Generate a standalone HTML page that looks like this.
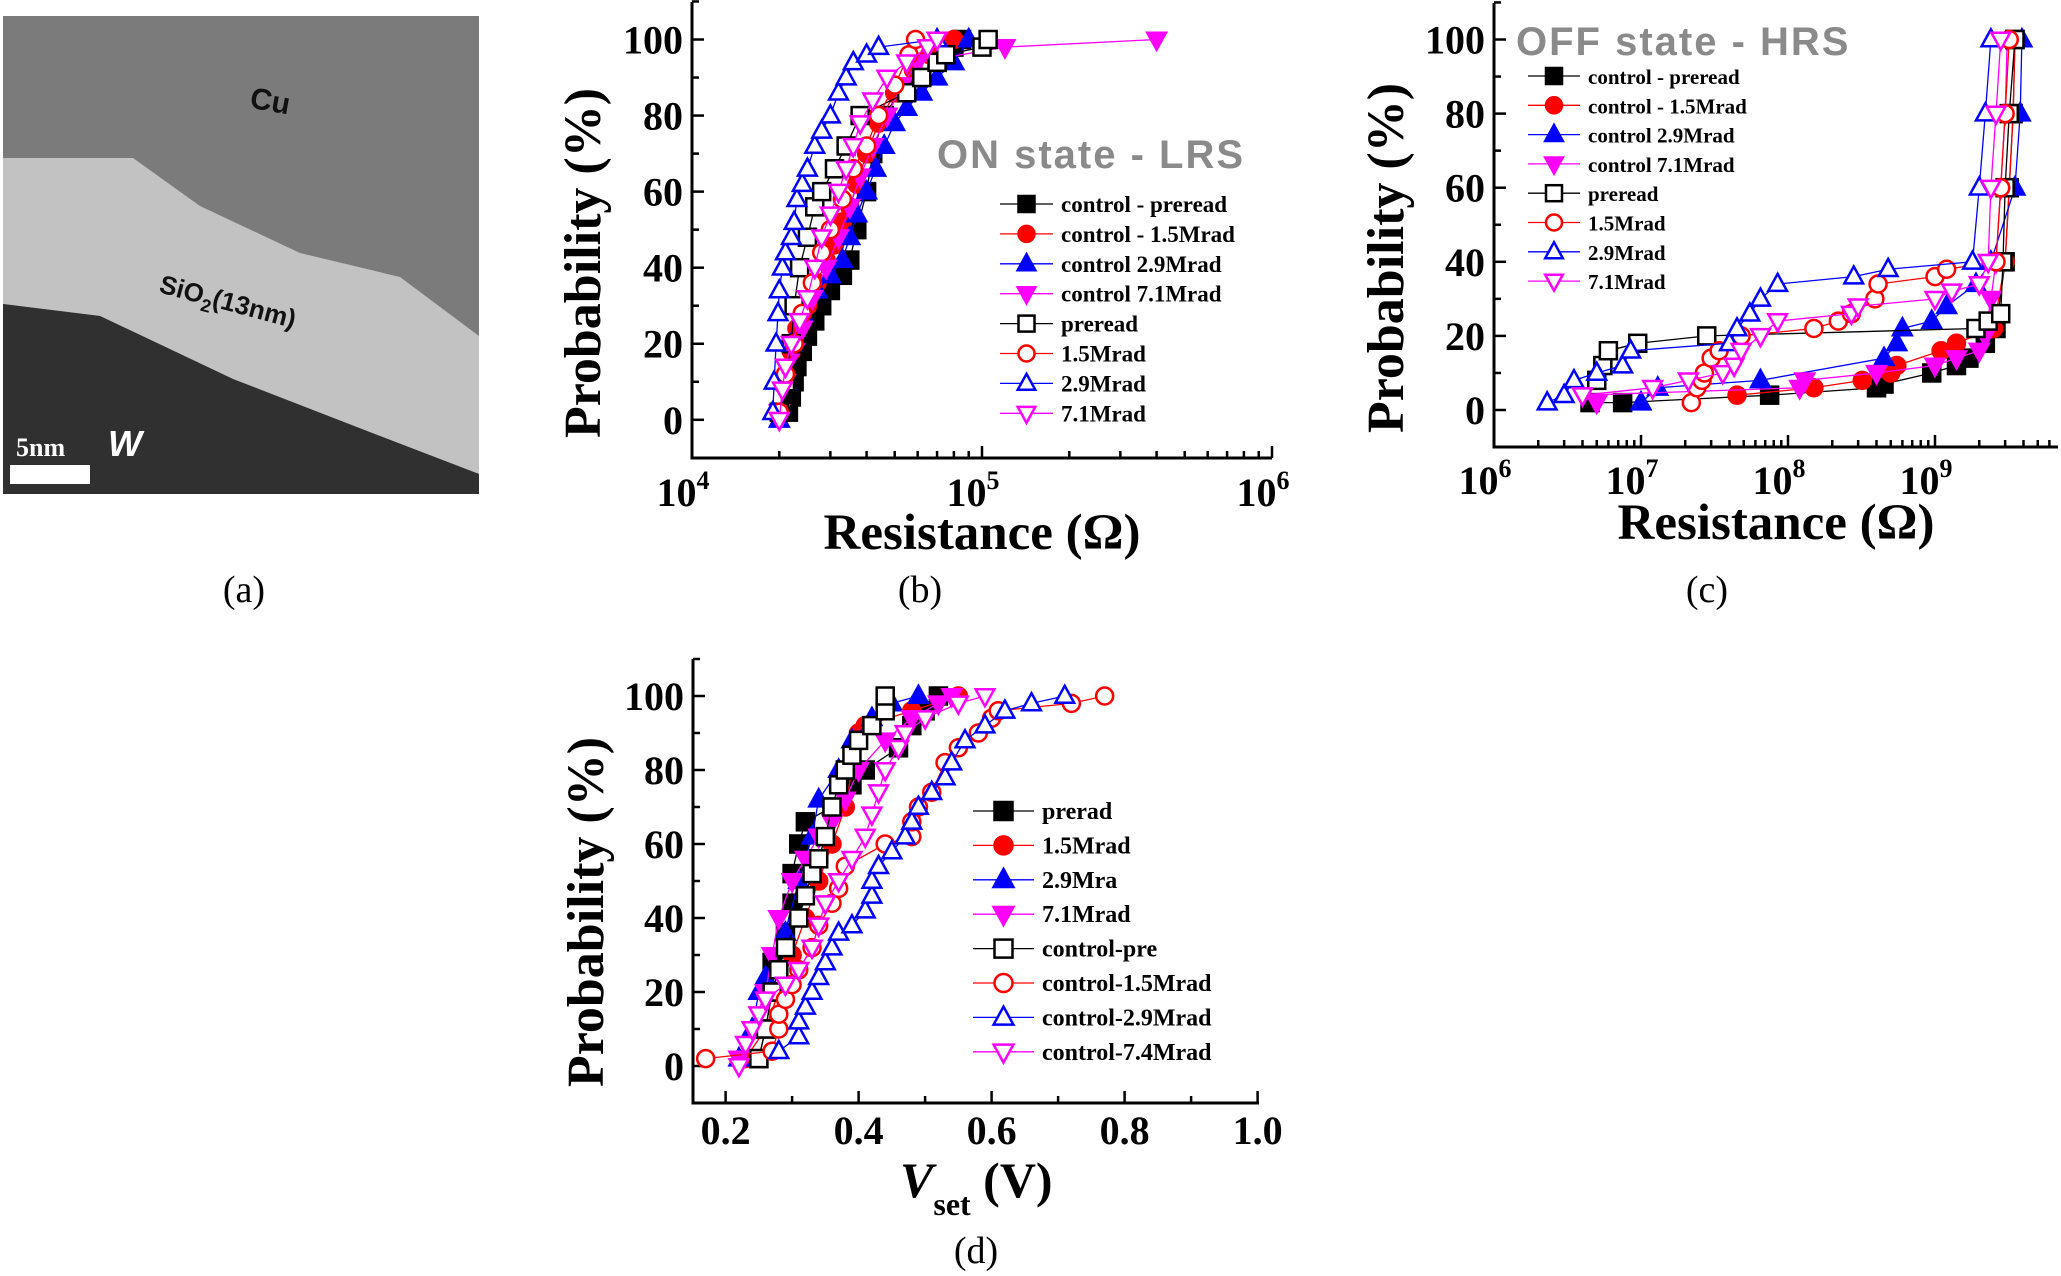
<!DOCTYPE html>
<html><head><meta charset="utf-8"><style>
html,body{margin:0;padding:0;background:#fff;}
svg{display:block;font-family:"Liberation Serif",serif;}
.sans{font-family:"Liberation Sans",sans-serif;}
</style></head><body>
<svg id="fig" width="2061" height="1276" viewBox="0 0 2061 1276" xmlns="http://www.w3.org/2000/svg">
<g>
  <rect x="3" y="16" width="476" height="478" fill="#7b7b7b"/>
  <path d="M3,158 L133,158 L200,206 L300,253 L400,277 L479,336 L479,474 L367,431 L233,379 L100,316 L3,304 Z" fill="#c2c2c2"/>
  <path d="M3,304 L100,316 L233,379 L367,431 L479,474 L479,494 L3,494 Z" fill="#303030"/>
  <text class="sans" x="250" y="112" font-weight="bold" font-size="30" fill="#111" transform="rotate(10 275 103)">Cu</text>
  <text class="sans" x="158" y="292" font-weight="bold" font-size="26" fill="#111" transform="rotate(15 158 292)">SiO<tspan dy="7" font-size="18">2</tspan><tspan dy="-7">(13nm)</tspan></text>
  <text x="16" y="456" font-weight="bold" font-size="26" fill="#fff">5nm</text>
  <rect x="10" y="465" width="80" height="19" fill="#fff"/>
  <text class="sans" x="108" y="456" font-style="italic" font-weight="bold" font-size="36" fill="#fff">W</text>
</g>
<text x="244" y="602" font-size="38" text-anchor="middle">(a)</text>
<text x="920" y="602" font-size="38" text-anchor="middle">(b)</text>
<text x="1707" y="602" font-size="38" text-anchor="middle">(c)</text>
<text x="976" y="1263" font-size="38" text-anchor="middle">(d)</text>

<text class="sans" x="937" y="168" font-weight="bold" font-size="40" fill="#8a8a8a" letter-spacing="2">ON state - LRS</text>
<text class="sans" x="1516" y="55" font-weight="bold" font-size="40" fill="#8a8a8a" letter-spacing="2">OFF state - HRS</text>

<text transform="translate(600,263) rotate(-90)" font-weight="bold" font-size="52" text-anchor="middle">Probability (%)</text>
<text x="982" y="549" font-weight="bold" font-size="51" text-anchor="middle">Resistance (Ω)</text>
<text transform="translate(1403,258) rotate(-90)" font-weight="bold" font-size="52" text-anchor="middle">Probability (%)</text>
<text x="1776" y="539" font-weight="bold" font-size="51" text-anchor="middle">Resistance (Ω)</text>
<text transform="translate(603,912) rotate(-90)" font-weight="bold" font-size="52" text-anchor="middle">Probability (%)</text>
<text x="900" y="1197" font-weight="bold" font-size="50"><tspan font-style="italic">V</tspan><tspan dy="18" font-size="32">set</tspan><tspan dy="-18"> (V)</tspan></text>
</svg>
<script>
// ---- panel (b) LRS data [resistance ohm, probability %]
const b_ctrlPreread=[[21500,2],[22000,6],[22500,10],[23000,14],[24000,18],[25000,22],[26500,26],[28000,30],[30000,34],[33000,38],[35000,42],[37000,50],[40000,60],[42000,70],[46000,80],[52000,86],[60000,90],[70000,94],[80000,98],[85000,100]];
const b_ctrl15=[[20000,2],[21000,10],[22000,18],[23000,24],[25000,30],[27000,36],[29000,42],[31000,46],[33000,52],[35000,56],[37000,62],[40000,70],[44000,78],[50000,86],[58000,92],[66000,96],[80000,100]];
const b_ctrl29=[[20000,0],[21000,10],[22000,20],[24000,28],[27000,34],[30000,38],[33000,42],[35000,48],[37000,54],[40000,60],[43000,66],[46000,72],[50000,78],[55000,82],[62000,86],[70000,90],[80000,94],[90000,100]];
const b_ctrl71=[[20000,2],[21000,10],[22500,18],[24000,24],[26000,32],[29000,40],[32000,48],[35000,56],[38000,64],[42000,72],[47000,80],[53000,88],[60000,94],[120000,98],[400000,100]];
const b_preread=[[20000,2],[21000,10],[22000,20],[22500,30],[23500,40],[25000,48],[26500,56],[28000,60],[31000,66],[34000,72],[38000,80],[55000,86],[62000,90],[70000,94],[75000,96],[100000,98],[105000,100]];
const b_15=[[20000,2],[21000,12],[22500,20],[24000,28],[26000,36],[28000,44],[30000,50],[33000,58],[36000,66],[40000,72],[44000,80],[50000,88],[56000,96],[59000,100]];
const b_29=[[19000,2],[19200,10],[19500,20],[19800,28],[20000,34],[20500,40],[21000,44],[22000,48],[22500,52],[23000,58],[24000,62],[25000,66],[26500,72],[28000,76],[30000,80],[32000,86],[34000,90],[36000,94],[40000,96],[44000,98],[70000,100]];
const b_71=[[20000,0],[20500,8],[21000,14],[22000,20],[23500,26],[25000,32],[26500,40],[28000,48],[30000,54],[32000,60],[34000,66],[36000,72],[38000,78],[42000,84],[47000,90],[55000,94],[65000,98],[70000,100]];
const b_legend=["control - preread","control - 1.5Mrad","control 2.9Mrad","control 7.1Mrad","preread","1.5Mrad","2.9Mrad","7.1Mrad"];
// ---- panel (c) HRS data
const c_ctrlPreread=[[4.5e6,2],[7.5e6,2],[7.5e7,4],[4e8,6],[4.5e8,7],[9.5e8,10],[1.4e9,12],[1.7e9,14],[2.2e9,18],[2.6e9,22],[3e9,40],[3.2e9,60],[3.4e9,80],[3.5e9,100]];
const c_ctrl15=[[4.5e7,4],[1.5e8,6],[3.2e8,8],[5e8,10],[5.5e8,12],[1.1e9,16],[1.4e9,18],[2.5e9,22],[3e9,40],[3.2e9,60],[3.4e9,80],[3.5e9,100]];
const c_ctrl29=[[1e7,2],[1.3e7,6],[6.5e7,8],[4.5e8,14],[5.5e8,18],[6e8,22],[9.5e8,24],[1.2e9,28],[1.9e9,34],[2.4e9,40],[3.5e9,60],[3.8e9,80],[3.9e9,100]];
const c_ctrl71=[[5e6,2],[4e6,4],[1.2e8,6],[1.3e8,8],[4e8,10],[1e9,12],[1.4e9,14],[2e9,16],[2.2e9,20],[2.4e9,30],[2.6e9,40],[2.8e9,60],[3e9,80],[3.1e9,100]];
const c_preread=[[5e6,8],[5.5e6,12],[6e6,16],[9.5e6,18],[2.8e7,20],[1.9e9,22],[2.3e9,24],[2.8e9,26],[2.9e9,40],[3e9,60],[3.2e9,80],[3.5e9,100]];
const c_15=[[2.2e7,2],[2.4e7,6],[2.6e7,8],[2.7e7,10],[3e7,14],[3.4e7,16],[4.8e7,20],[1.5e8,22],[2.2e8,24],[2.7e8,26],[3.9e8,30],[4.1e8,34],[1e9,36],[1.2e9,38],[2.6e9,40],[2.8e9,60],[3e9,80],[3.2e9,100]];
const c_29=[[2.3e6,2],[3e6,4],[3.5e6,8],[5e6,10],[7.5e6,12],[8.5e6,16],[4e7,18],[4.5e7,22],[5.5e7,26],[6.5e7,30],[8.5e7,34],[2.8e8,36],[4.8e8,38],[1.8e9,40],[2e9,60],[2.2e9,80],[2.4e9,100]];
const c_71=[[4e6,4],[1.2e7,6],[2.1e7,8],[3.6e7,10],[4.3e7,12],[4.8e7,16],[6.5e7,20],[8.5e7,24],[2.7e8,26],[3e8,28],[1e9,30],[1.3e9,32],[2e9,34],[2.3e9,40],[2.4e9,60],[2.6e9,80],[2.8e9,100]];
const c_legend=["control - preread","control - 1.5Mrad","control 2.9Mrad","control 7.1Mrad","preread","1.5Mrad","2.9Mrad","7.1Mrad"];
// ---- panel (d) Vset data [V, %]
const d_prerad=[[0.25,2],[0.26,10],[0.27,20],[0.27,28],[0.29,36],[0.3,44],[0.3,52],[0.31,60],[0.32,66],[0.36,70],[0.39,76],[0.41,80],[0.46,86],[0.48,92],[0.5,96],[0.52,100]];
const d_15=[[0.23,2],[0.26,10],[0.28,20],[0.3,30],[0.32,40],[0.34,50],[0.36,60],[0.38,70],[0.39,80],[0.4,90],[0.41,92],[0.48,96],[0.55,100]];
const d_29=[[0.22,2],[0.24,10],[0.25,20],[0.26,24],[0.29,36],[0.31,50],[0.33,62],[0.34,72],[0.37,80],[0.39,88],[0.42,94],[0.45,98],[0.49,100]];
const d_71=[[0.22,2],[0.24,10],[0.26,20],[0.27,30],[0.28,40],[0.3,50],[0.32,56],[0.34,62],[0.36,66],[0.38,72],[0.4,80],[0.44,88],[0.48,94],[0.52,98],[0.54,100]];
const d_ctrlPre=[[0.25,2],[0.26,10],[0.27,20],[0.28,26],[0.29,32],[0.31,40],[0.32,46],[0.33,52],[0.34,56],[0.35,62],[0.36,70],[0.37,76],[0.38,80],[0.39,84],[0.4,88],[0.42,92],[0.44,96],[0.44,100]];
const d_ctrl15=[[0.17,2],[0.27,4],[0.28,10],[0.28,14],[0.29,18],[0.3,22],[0.31,26],[0.33,32],[0.34,38],[0.36,44],[0.37,48],[0.38,54],[0.44,60],[0.48,62],[0.48,66],[0.49,70],[0.51,74],[0.53,82],[0.55,86],[0.58,90],[0.6,94],[0.61,96],[0.72,98],[0.77,100]];
const d_ctrl29=[[0.28,4],[0.31,8],[0.31,12],[0.32,16],[0.33,20],[0.34,24],[0.35,28],[0.36,32],[0.37,36],[0.39,38],[0.41,42],[0.42,46],[0.42,50],[0.43,54],[0.45,58],[0.47,62],[0.48,66],[0.49,70],[0.51,74],[0.53,78],[0.54,82],[0.56,88],[0.59,92],[0.62,96],[0.66,98],[0.71,100]];
const d_ctrl74=[[0.22,0],[0.23,6],[0.24,10],[0.25,14],[0.26,18],[0.29,22],[0.31,26],[0.33,32],[0.34,38],[0.35,44],[0.37,50],[0.39,56],[0.41,62],[0.42,68],[0.43,74],[0.44,80],[0.46,86],[0.47,90],[0.5,94],[0.55,98],[0.59,100]];
const d_legend=["prerad","1.5Mrad","2.9Mra","7.1Mrad","control-pre","control-1.5Mrad","control-2.9Mrad","control-7.4Mrad"];
const yTicks=[0,20,40,60,80,100];
const dXTicks=[0.2,0.4,0.6,0.8,1.0];

const NS="http://www.w3.org/2000/svg";
const svg=document.getElementById('fig');
function mk(tag,attrs,parent){const e=document.createElementNS(NS,tag);for(const k in attrs)e.setAttribute(k,attrs[k]);(parent||svg).appendChild(e);return e;}

const styles=[
 {shape:'sq',color:'#000',fill:true},{shape:'ci',color:'#ff0000',fill:true},{shape:'up',color:'#0000ff',fill:true},{shape:'dn',color:'#ff00ff',fill:true},
 {shape:'sq',color:'#000',fill:false},{shape:'ci',color:'#ff0000',fill:false},{shape:'up',color:'#0000ff',fill:false},{shape:'dn',color:'#ff00ff',fill:false}];

function marker(g,x,y,st,s){
  const f=st.fill?st.color:'#fff';let e;
  if(st.shape==='sq')e=mk('rect',{x:x-s,y:y-s,width:2*s,height:2*s,fill:f,stroke:st.color,'stroke-width':2.5},g);
  else if(st.shape==='ci')e=mk('circle',{cx:x,cy:y,r:s,fill:f,stroke:st.color,'stroke-width':2.5},g);
  else if(st.shape==='up')e=mk('polygon',{points:`${x},${y-s*1.2} ${x-s*1.1},${y+s*0.8} ${x+s*1.1},${y+s*0.8}`,fill:f,stroke:st.color,'stroke-width':2.5},g);
  else e=mk('polygon',{points:`${x},${y+s*1.2} ${x-s*1.1},${y-s*0.8} ${x+s*1.1},${y-s*0.8}`,fill:f,stroke:st.color,'stroke-width':2.5},g);
  
  
}

function panel(p){
  const g=mk('g',{});
  
  
  const ax=mk('path',{d:`M${p.left},${p.top} L${p.left},${p.bottom} L${p.right},${p.bottom}`,fill:'none',stroke:'#000','stroke-width':3},g);
  
  
  for(let v=-10;v<=110;v+=10){const y=p.y(v);if(y<p.top-1||y>p.bottom)continue;const major=v%20===0&&v>=0;
    const t=mk('line',{x1:p.left,x2:p.left+(major?12:7),y1:y,y2:y,stroke:'#000','stroke-width':2.5},g);
    
    }
  yTicks.forEach(v=>{const t=mk('text',{x:p.left-9,y:p.y(v)+14,'text-anchor':'end','font-size':40,'font-weight':'bold'},g);t.textContent=v;
    
    });
  p.xticks(g);
  p.series.forEach((s,i)=>{const st=styles[i];
    const pts=s.map(d=>[p.x(d[0]),p.y(d[1])]);
    const l=mk('polyline',{points:pts.map(q=>q.join(',')).join(' '),fill:'none',stroke:st.color,'stroke-width':1.3},g);
    
    
    const sg=mk('g',{},g);
    
    
    pts.forEach(q=>marker(sg,q[0],q[1],st,p.ms));});
  const lg=mk('g',{},g);
  
  
  p.legend.forEach((name,i)=>{const st=styles[i];const y=p.lgY+i*p.lgDy;
    const e=mk('g',{},lg);
    
    
    mk('line',{x1:p.lgX1,x2:p.lgX2,y1:y,y2:y,stroke:st.color,'stroke-width':1.3},e);
    marker(e,(p.lgX1+p.lgX2)/2,y,st,p.lgMs);
    const t=mk('text',{x:p.lgX2+8,y:y+8,'font-size':p.lgFs,'font-weight':'bold'},e);t.textContent=name;});
}

function logTicks(p,d0,d1,labelY){return g=>{
  for(let d=d0;d<=d1;d++){for(let m=1;m<=9;m++){const v=m*Math.pow(10,d);const x=p.x(v);if(x<p.left||x>p.right)continue;
    const t=mk('line',{x1:x,x2:x,y1:p.bottom,y2:p.bottom-(m===1?12:7),stroke:'#000','stroke-width':2.5},g);
    
    }
    const x=p.x(Math.pow(10,d));if(x<p.left-2||x>p.right+2)continue;
    const t=mk('text',{x:x-9,y:labelY,'text-anchor':'middle','font-size':40,'font-weight':'bold'},g);
    t.textContent='10';
    const s=mk('tspan',{dy:-17,'font-size':26},t);s.textContent=String(d);
    
    }
};}

const pb={id:'b',left:692,right:1272,top:2,bottom:458,x:R=>692+Math.log10(R/1e4)*290,y:v=>419.8-v*3.803,ms:8.5,
  series:[b_ctrlPreread,b_ctrl15,b_ctrl29,b_ctrl71,b_preread,b_15,b_29,b_71],legend:b_legend,
  lgX1:1000,lgX2:1053,lgY:204,lgDy:29.9,lgMs:8,lgFs:23};
pb.xticks=logTicks(pb,4,6,506);
panel(pb);
const pc={id:'c',left:1494,right:2058,top:3,bottom:447,x:R=>1494+Math.log10(R/1e6)*147,y:v=>410-v*3.705,ms:8.5,
  series:[c_ctrlPreread,c_ctrl15,c_ctrl29,c_ctrl71,c_preread,c_15,c_29,c_71],legend:c_legend,
  lgX1:1528,lgX2:1580,lgY:76,lgDy:29.3,lgMs:8,lgFs:21};
pc.xticks=logTicks(pc,6,9,494);
panel(pc);
const pd={id:'d',left:693,right:1259,top:659,bottom:1103,x:v=>725.6+(v-0.2)*665,y:v=>1066-v*3.70,ms:8.5,
  series:[d_prerad,d_15,d_29,d_71,d_ctrlPre,d_ctrl15,d_ctrl29,d_ctrl74],legend:d_legend,
  lgX1:973,lgX2:1034,lgY:811,lgDy:34.4,lgMs:9,lgFs:24};
pd.xticks=g=>{
  for(let i=0;i<=8;i++){const v=0.2+i*0.1;const x=pd.x(v);
    const t=mk('line',{x1:x,x2:x,y1:pd.bottom,y2:pd.bottom-(i%2===0?12:7),stroke:'#000','stroke-width':2.5},g);
    
    }
  dXTicks.forEach(v=>{const t=mk('text',{x:pd.x(v),y:1144,'text-anchor':'middle','font-size':40,'font-weight':'bold'},g);t.textContent=v.toFixed(1);
    
    });
};
panel(pd);
</script>
</body></html>
